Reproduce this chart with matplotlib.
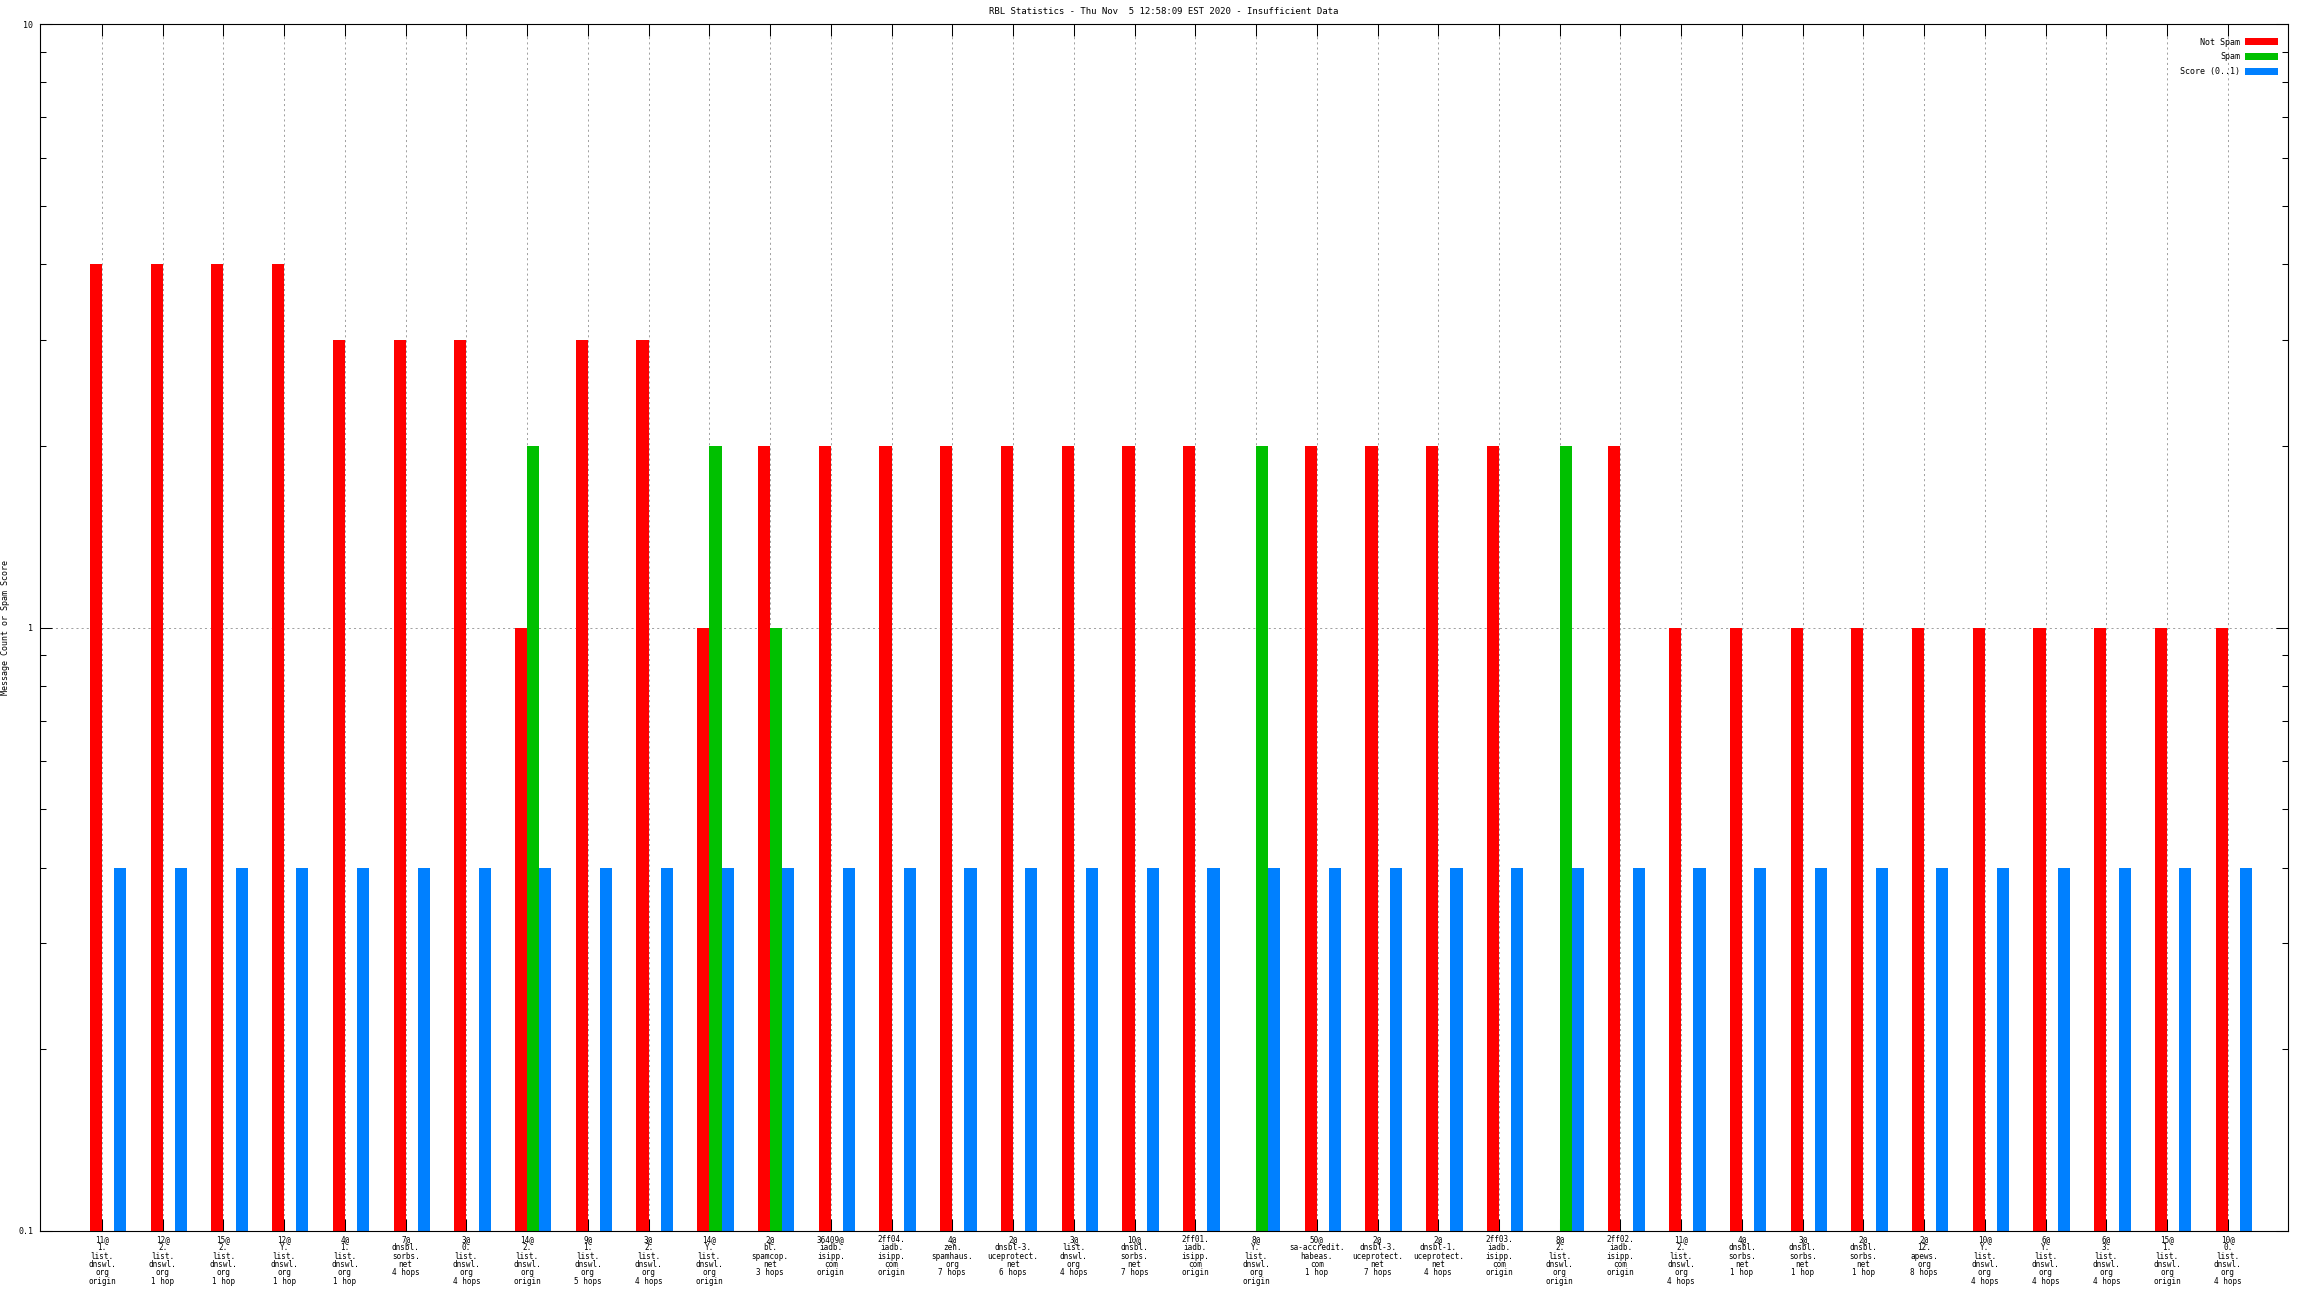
import numpy as np
import matplotlib
matplotlib.use('Agg')
import matplotlib.pyplot as plt
from matplotlib.patches import Patch
from matplotlib.ticker import LogLocator, FixedLocator, NullFormatter

plt.rcParams['font.family'] = ['DejaVu Sans Mono']
plt.rcParams['lines.scale_dashes'] = False

title = 'RBL Statistics - Thu Nov  5 12:58:09 EST 2020 - Insufficient Data'

labels = [
    "11@\n1.\nlist.\ndnswl.\norg\norigin",
    "12@\n2.\nlist.\ndnswl.\norg\n1 hop",
    "15@\n2.\nlist.\ndnswl.\norg\n1 hop",
    "12@\nY.\nlist.\ndnswl.\norg\n1 hop",
    "4@\n1.\nlist.\ndnswl.\norg\n1 hop",
    "7@\ndnsbl.\nsorbs.\nnet\n4 hops",
    "3@\n0.\nlist.\ndnswl.\norg\n4 hops",
    "14@\n2.\nlist.\ndnswl.\norg\norigin",
    "9@\n1.\nlist.\ndnswl.\norg\n5 hops",
    "3@\n2.\nlist.\ndnswl.\norg\n4 hops",
    "14@\nY.\nlist.\ndnswl.\norg\norigin",
    "2@\nbl.\nspamcop.\nnet\n3 hops",
    "36409@\niadb.\nisipp.\ncom\norigin",
    "2ff04.\niadb.\nisipp.\ncom\norigin",
    "4@\nzen.\nspamhaus.\norg\n7 hops",
    "2@\ndnsbl-3.\nuceprotect.\nnet\n6 hops",
    "3@\nlist.\ndnswl.\norg\n4 hops",
    "10@\ndnsbl.\nsorbs.\nnet\n7 hops",
    "2ff01.\niadb.\nisipp.\ncom\norigin",
    "8@\nY.\nlist.\ndnswl.\norg\norigin",
    "50@\nsa-accredit.\nhabeas.\ncom\n1 hop",
    "2@\ndnsbl-3.\nuceprotect.\nnet\n7 hops",
    "2@\ndnsbl-1.\nuceprotect.\nnet\n4 hops",
    "2ff03.\niadb.\nisipp.\ncom\norigin",
    "8@\n2.\nlist.\ndnswl.\norg\norigin",
    "2ff02.\niadb.\nisipp.\ncom\norigin",
    "11@\n2.\nlist.\ndnswl.\norg\n4 hops",
    "4@\ndnsbl.\nsorbs.\nnet\n1 hop",
    "3@\ndnsbl.\nsorbs.\nnet\n1 hop",
    "2@\ndnsbl.\nsorbs.\nnet\n1 hop",
    "2@\n12.\napews.\norg\n8 hops",
    "10@\nY.\nlist.\ndnswl.\norg\n4 hops",
    "6@\nY.\nlist.\ndnswl.\norg\n4 hops",
    "6@\n3.\nlist.\ndnswl.\norg\n4 hops",
    "15@\n1.\nlist.\ndnswl.\norg\norigin",
    "10@\n0.\nlist.\ndnswl.\norg\n4 hops",
]

not_spam = [4, 4, 4, 4, 3, 3, 3, 1, 3, 3, 1, 2, 2, 2, 2, 2, 2, 2, 2, 0,
            2, 2, 2, 2, 0, 2, 1, 1, 1, 1, 1, 1, 1, 1, 1, 1]
spam = [0, 0, 0, 0, 0, 0, 0, 2, 0, 0, 2, 1, 0, 0, 0, 0, 0, 0, 0, 2,
        0, 0, 0, 0, 2, 0, 0, 0, 0, 0, 0, 0, 0, 0, 0, 0]
score = [0.4, 0.4, 0.4, 0.4, 0.4, 0.4, 0.4, 0.4, 0.4, 0.4, 0.4, 0.4,
         0.4, 0.4, 0.4, 0.4, 0.4, 0.4, 0.4, 0.4, 0.4, 0.4, 0.4, 0.4,
         0.4, 0.4, 0.4, 0.4, 0.4, 0.4, 0.4, 0.4, 0.4, 0.4, 0.4, 0.4]

series_names = ['Not Spam', 'Spam', 'Score (0..1)']
colors = ['#ff0000', '#00c000', '#0080ff']

fig = plt.figure(figsize=(23.04, 12.96), dpi=100)
ax = fig.add_axes([40 / 2304, 1 - 1231 / 1296, 2248 / 2304, 1207 / 1296])
ax.set_yscale('log')

x = np.arange(len(labels))
w = 0.2
for vals, off, c in zip([not_spam, spam, score], [-0.1, 0.1, 0.3], colors):
    vals = np.array(vals, dtype=float)
    m = vals > 0
    ax.bar(x[m] + off, vals[m], width=w, color=c, linewidth=0, zorder=2)

ax.set_xlim(-1.02, 35.99)
ax.set_ylim(0.1, 10)

ax.set_xticks(x)
ax.set_xticklabels(labels, fontsize=5.5, linespacing=0.9)
ax.yaxis.set_major_locator(FixedLocator([0.1, 1, 10]))
ax.set_yticklabels(['0.1', '1', '10'], fontsize=6)
ax.yaxis.set_minor_locator(LogLocator(base=10, subs=np.arange(2, 10)))
ax.yaxis.set_minor_formatter(NullFormatter())

ax.tick_params(axis='both', which='major', direction='in', length=8.6,
               width=0.75, top=True, right=True, color='black')
ax.tick_params(axis='y', which='minor', direction='in', length=4.3,
               width=0.75, right=True)
ax.tick_params(axis='x', pad=3)
ax.tick_params(axis='y', pad=5)

for s in ax.spines.values():
    s.set_linewidth(0.8)
    s.set_zorder(5)

ax.grid(True, which='major', color='#a0a0a0', linewidth=0.7,
        dashes=(1.5, 2.2))
ax.set_axisbelow(True)

ax.set_ylabel('Message Count or Spam Score', fontsize=6)
ax.yaxis.set_label_coords(-0.0135, 0.5)

fig.text((40 + 2288) / 2 / 2304, 1 - 12 / 1296, title, fontsize=6.5,
         ha='center', va='center')

handles = [Patch(facecolor=c, edgecolor='none', label=n)
           for n, c in zip(series_names, colors)]
ax.legend(handles=handles, loc='upper right', frameon=False, markerfirst=False,
          fontsize=6, handlelength=4.0, handleheight=0.85, labelspacing=0.7,
          handletextpad=0.6, bbox_to_anchor=(0.999, 0.995))

fig.savefig('out.png', dpi=100)
